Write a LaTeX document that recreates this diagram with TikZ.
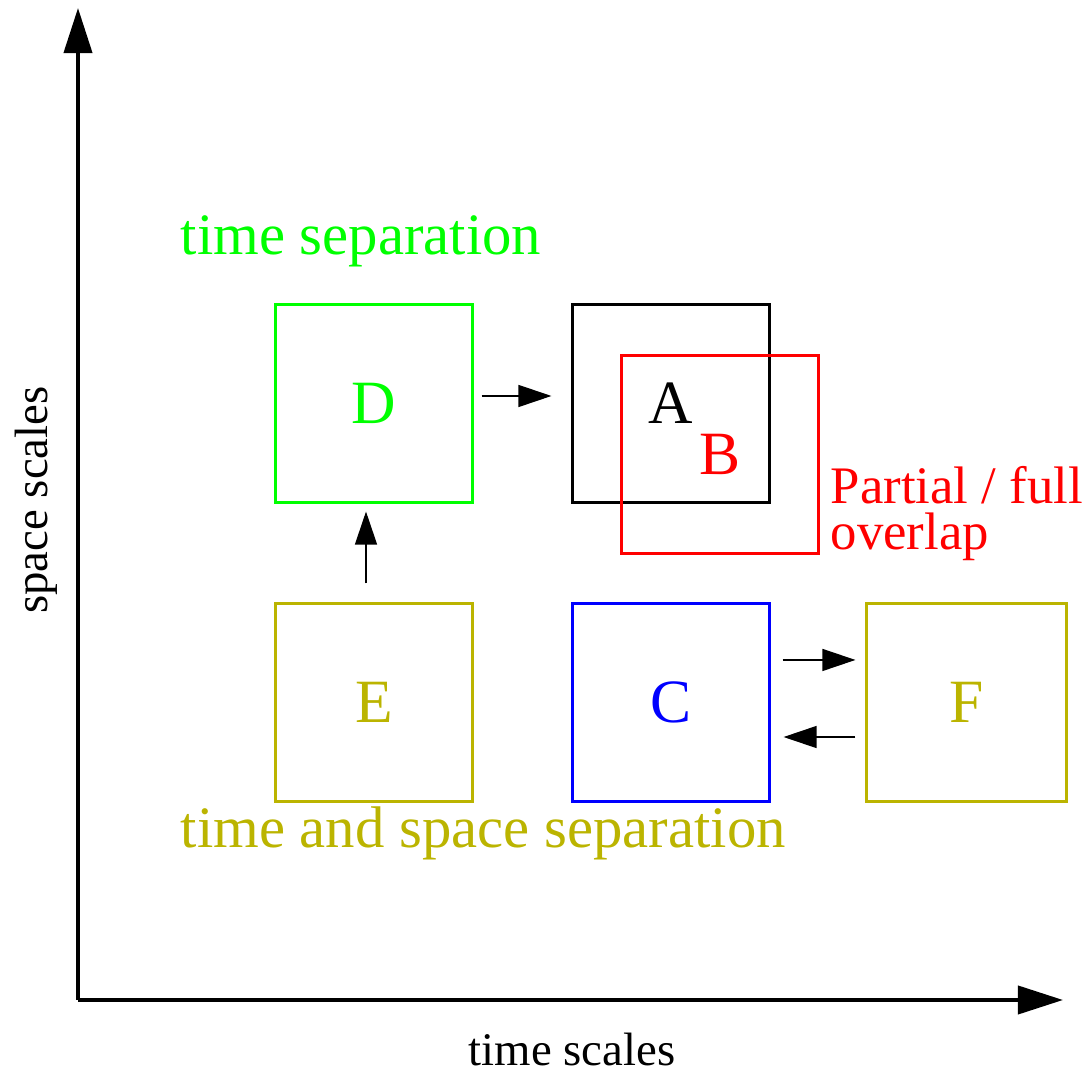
\documentclass[tikz,border=0pt]{standalone}
\usepackage{fontspec}
\setmainfont{Liberation Serif}
\usetikzlibrary{arrows.meta}
\definecolor{olive}{RGB}{187,180,0}
\definecolor{lgreen}{RGB}{0,255,0}
\begin{document}
\begin{tikzpicture}[x=0.01cm, y=-0.01cm,
    every node/.style={font=\fontsize{16.7}{20}\selectfont},
    axislabel/.style={font=\fontsize{13.3}{16}\selectfont},
    scalebox/.style={draw, line width=0.85pt, minimum width=1.96cm, minimum height=1.97cm, inner sep=0pt,
      font=\fontsize{17.5}{20}\selectfont},
    arr/.style={line width=0.35pt, -{Triangle[length=0.33cm, width=0.22cm]}},
    axis/.style={line width=1.1pt, -{Triangle[length=0.45cm, width=0.28cm]}}]
  \useasboundingbox (0,0) rectangle (1082,1071);
  % Achsen
  \coordinate (o) at (78,1000);
  \coordinate (ytip) at (78,8);
  \coordinate (xtip) at (1063,1000);
  \draw[axis] (o) -- (ytip);
  \draw[axis] (o) -- (xtip);
  \node[axislabel, rotate=90] (ylab) at (36,500) {space scales};
  \node[axislabel, anchor=base, inner sep=0pt] (xlab) at (572,1065) {time scales};
  % Skalenboxen
  \node[scalebox, lgreen, text=lgreen] (D) at (374,403.5) {D};
  \node[scalebox, black] (A) at (671,403.5) {A};
  \node[scalebox, red, text=red] (B) at (720,454.5) {B};
  \node[scalebox, olive, text=olive] (E) at (374,702.5) {E};
  \node[scalebox, blue, text=blue] (C) at (671,702.5) {C};
  \node[scalebox, olive, text=olive, minimum width=1.99cm] (F) at (966.5,702.5) {F};
  % Beschriftungen
  \node[lgreen, anchor=base west, inner sep=0pt] (tsep) at (180,255) {time separation};
  \node[olive, anchor=base west, inner sep=0pt] (tssep) at (180,848) {time and space separation};
  \node[red, anchor=base west, inner sep=0pt, align=left, font=\fontsize{15}{13.3}\selectfont] (ovl) at (830,550) {Partial / full\\overlap};
  % Pfeile zwischen den Boxen
  \draw[arr] ([xshift=0.08cm, yshift=0.075cm]D.east) -- ([xshift=-0.2cm, yshift=0.075cm]A.west);
  \draw[arr] ([xshift=-0.08cm, yshift=0.19cm]E.north) -- ([xshift=-0.08cm, yshift=-0.08cm]D.south);
  \draw[arr] ([xshift=0.12cm, yshift=0.425cm]C.east) -- ([xshift=-0.1cm, yshift=0.425cm]F.west);
  \draw[arr] ([xshift=-0.1cm, yshift=-0.345cm]F.west) -- ([xshift=0.13cm, yshift=-0.345cm]C.east);
\end{tikzpicture}
\end{document}
